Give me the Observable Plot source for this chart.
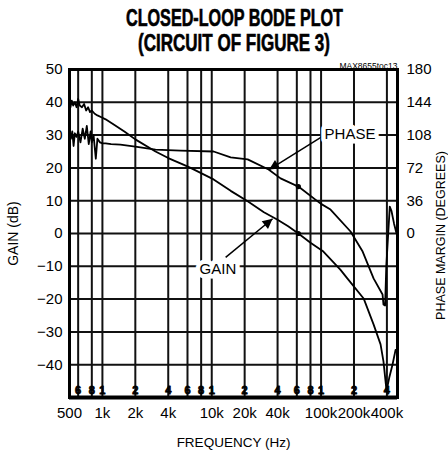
<!DOCTYPE html>
<html>
<head>
<meta charset="utf-8">
<script src="https://cdn.jsdelivr.net/npm/d3@7"></script>
<script src="https://cdn.jsdelivr.net/npm/@observablehq/plot@0.6"></script>
<style>
  html, body { margin: 0; padding: 0; background: #fff; overflow: hidden; }
  #wrap { position: relative; width: 448px; height: 457px; }
  #title { position: relative; width: 448px; height: 57px; font-family: "Liberation Sans", Arial, sans-serif; font-weight: bold; color: #000; }
  #title span { position: absolute; white-space: nowrap; font-size: 23px; line-height: 23px; transform-origin: 0 0; -webkit-text-stroke: 0.6px #000; }
</style>
</head>
<body>
<div id="wrap">
  <div id="title">
    <span id="t1">CLOSED-LOOP BODE PLOT</span>
    <span id="t2">(CIRCUIT OF FIGURE 3)</span>
  </div>
  <div id="chart"></div>
</div>
<script>
// ---- data ----
const freqTicks = [500, 1000, 2000, 4000, 10000, 20000, 40000, 100000, 200000, 400000];
const freqTickLabels = ["500", "1k", "2k", "4k", "10k", "20k", "40k", "100k", "200k", "400k"];
const gridFreqs = [600, 800, 1000, 2000, 4000, 6000, 8000, 10000, 20000, 40000, 60000, 80000, 100000, 200000, 400000];
const gridDigits = ["6", "8", "1", "2", "4", "6", "8", "1", "2", "4", "6", "8", "1", "2", "4"];
const gainTicks = [-40, -30, -20, -10, 0, 10, 20, 30, 40, 50];
const gainGrid = [-40, -30, -20, -10, 0, 10, 20, 30, 40];
const phaseTicks = [0, 36, 72, 108, 144, 180];

const gainFreq = [500, 510, 525, 540, 560, 580, 600, 620, 650, 680, 710, 740, 770, 800, 850, 900, 1000, 1070, 1300, 1600, 2000, 3060, 4000, 5500, 6400, 10400, 14900, 21300, 30000, 40000, 50000, 62000, 80000, 105000, 150000, 173000, 245000, 302000, 350000, 372000, 397000, 420000, 450000, 480000];
const gainDb   = [40, 38.5, 40.5, 39, 40, 38.5, 41, 39, 38.5, 39.5, 37.5, 38.5, 37, 37.5, 36.5, 36, 35.3, 34.8, 33, 31, 28.7, 25, 23, 21, 20, 16.5, 13, 9.8, 6.5, 4.2, 2.2, 0, -2.8, -5.5, -11, -13.6, -19.8, -27.7, -33.8, -39, -48, -44, -40, -35.5];

const phaseFreq = [500, 515, 530, 545, 560, 580, 600, 630, 660, 690, 720, 750, 780, 800, 830, 870, 900, 950, 1000, 1070, 1200, 1460, 2000, 3060, 5180, 10400, 14900, 21300, 33100, 42600, 62000, 99000, 122000, 186000, 240000, 302000, 365000, 372000, 385000, 395000, 425000, 440000, 465000, 490000];
const phaseDeg  = [110, 104, 112, 96, 110, 106, 112, 100, 115, 104, 118, 98, 112, 100, 108, 82, 104, 100, 99, 99, 98, 97.5, 95.4, 92, 91, 90, 83.5, 81.4, 70.2, 60.5, 51.5, 32.8, 26.3, 2.2, -19.8, -49.3, -67, -77.8, -79, -36, 29.5, 25, 10.8, 0];

const markerFreq = [62000, 62000];
const markerVal = [0, 51.5 / 3.6];

const labelText = ["PHASE", "GAIN"];
const labelFreq = [184000, 11400];
const labelDb = [30.2, -11];
const arrowFreq1 = [103000, 13400];
const arrowDb1 = [29.6, -7.3];
const arrowFreq2 = [33500, 36000];
const arrowDb2 = [19.5, 4.5];

// ---- build tables ----
const gain = gainFreq.map((f, i) => ({f, v: gainDb[i]}));
const phase = phaseFreq.map((f, i) => ({f, v: phaseDeg[i] / 3.6}));
const grid = gridFreqs.map((f, i) => ({f, d: gridDigits[i]}));
const labels = labelText.map((t, i) => ({t, f: labelFreq[i], v: labelDb[i]}));
const arrows = arrowFreq1.map((f, i) => ({x1: f, y1: arrowDb1[i], x2: arrowFreq2[i], y2: arrowDb2[i]}));
const markers = markerFreq.map((f, i) => ({f, v: markerVal[i]}));

const FONT = "'Liberation Sans', Arial, sans-serif";
const INK = "#111";

const chart = Plot.plot({
  width: 448,
  height: 400,
  marginTop: 12,
  marginBottom: 60,
  marginLeft: 69,
  marginRight: 51,
  style: {fontFamily: FONT, fontSize: "15px", color: "#000", background: "#fff"},
  x: {type: "log", domain: [500, 500000], axis: null},
  y: {domain: [-50, 50]},
  marks: [
    Plot.ruleX(grid, {x: "f", stroke: INK, strokeWidth: 2}),
    Plot.ruleY(gainGrid, {stroke: INK, strokeWidth: 2}),
    Plot.text(grid, {x: "f", y: -47.8, text: "d", fontSize: 11, fontWeight: "bold", fill: "#000", stroke: "#000", strokeWidth: 0.8}),
    Plot.ruleY([-50], {stroke: "#000", strokeWidth: 4}),
    Plot.line(phase, {x: "f", y: "v", stroke: "#000", strokeWidth: 1.8}),
    Plot.line(gain, {x: "f", y: "v", stroke: "#000", strokeWidth: 1.8}),
    Plot.dot(markers, {x: "f", y: "v", r: 2.6, fill: "#000"}),
    Plot.link(arrows, {x1: "x1", y1: "y1", x2: "x2", y2: "y2", stroke: "#000", strokeWidth: 1.5}),
    Plot.text(labels, {x: "f", y: "v", text: "t", fontSize: 15, fill: "#000", stroke: "#fff", strokeWidth: 9}),
    Plot.frame({stroke: "#000", strokeWidth: 3}),
    Plot.axisY(gainTicks, {anchor: "left", tickSize: 0, tickPadding: 7, label: null}),
    Plot.axisY(phaseTicks.map(d => d / 3.6), {anchor: "right", tickSize: 0, tickPadding: 9, tickFormat: d => String(Math.round(d * 3.6)), label: null}),
    Plot.text(freqTicks, {x: d => d, frameAnchor: "bottom", dy: 20, text: (d, i) => freqTickLabels[i], fill: "#000"}),
    Plot.text(["FREQUENCY (Hz)"], {frameAnchor: "bottom", dy: 49, fontSize: 13.5, fill: "#000"}),
    Plot.text(["GAIN (dB)"], {frameAnchor: "left", textAnchor: "middle", dx: -56, rotate: -90, fontSize: 14, fill: "#000"}),
    Plot.text(["PHASE MARGIN (DEGREES)"], {frameAnchor: "right", textAnchor: "middle", dx: 43, dy: 2, rotate: -90, fontSize: 12.5, fill: "#000"}),
    Plot.text(["MAX8655toc13"], {frameAnchor: "top-right", dy: -7, fontSize: 8.5, fill: "#000"})
  ]
});

// filled arrowheads
const svg = d3.select(chart);
svg.append("defs").append("marker")
  .attr("id", "ah").attr("viewBox", "0 0 10 10").attr("refX", 10).attr("refY", 5)
  .attr("markerWidth", 15).attr("markerHeight", 10).attr("markerUnits", "userSpaceOnUse")
  .attr("orient", "auto")
  .append("path").attr("d", "M0,0L10,5L0,10Z").attr("fill", "#000");
svg.selectAll('g[aria-label="link"] path').attr("marker-end", "url(#ah)");

document.getElementById("chart").appendChild(chart);

// title layout (condensed heavy look)
function fit(id, targetW, top, cx) {
  const el = document.getElementById(id);
  const w = el.getBoundingClientRect().width;
  const s = targetW / w;
  el.style.transform = "scaleX(" + s + ")";
  el.style.left = (cx - targetW / 2) + "px";
  el.style.top = top + "px";
}
fit("t1", 217, 7, 234);
fit("t2", 192, 32, 234);
</script>
</body>
</html>
